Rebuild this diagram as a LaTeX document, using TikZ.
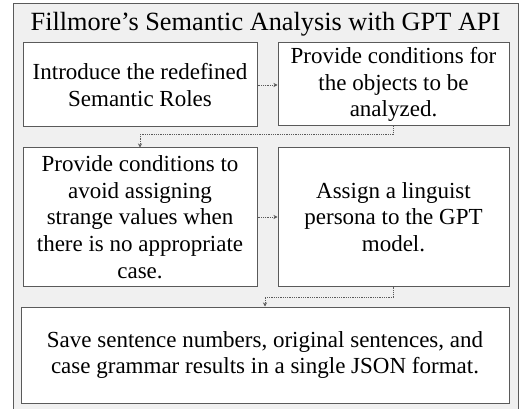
\documentclass[tikz,border=0pt]{standalone}
\usepackage{fontspec}
\setmainfont{Liberation Serif}
\usetikzlibrary{arrows.meta}
\definecolor{panel}{HTML}{F0F0F0}
\definecolor{edge}{HTML}{5A5A5A}
\tikzset{
  stepbox/.style={draw=edge, line width=1pt, fill=white, align=center,
    font=\fontsize{23}{26.8}\selectfont, inner sep=0pt},
  conn/.style={draw=edge, line width=0.8pt, densely dotted, -{Stealth[length=4pt,width=4pt]}},
}
\begin{document}
\begin{tikzpicture}[x=1pt,y=-1pt]
\useasboundingbox (0,0) rectangle (520,409);
\fill[white] (0,0) rectangle (520,409);
\draw[edge, line width=1pt, fill=panel] (13,4) rectangle (518.5,420);
\node[font=\fontsize{26.3}{30}\selectfont] (title) at (265.5,24) {Fillmore’s Semantic Analysis with GPT API};
\node[stepbox, minimum width=234pt, minimum height=84pt] (b1) at (140,85) {Introduce the redefined\\Semantic Roles};
\node[stepbox, minimum width=231pt, minimum height=83pt] (b2) at (393.5,84.5) {Provide conditions for\\the objects to be\\analyzed.};
\node[stepbox, minimum width=234pt, minimum height=138pt] (b3) at (140,217) {Provide conditions to\\avoid assigning\\strange values when\\there is no appropriate\\case.};
\node[stepbox, minimum width=231pt, minimum height=138pt] (b4) at (393.5,217) {Assign a linguist\\persona to the GPT\\model.};
\node[stepbox, minimum width=488pt, minimum height=96pt] (b5) at (265,355) {Save sentence numbers, original sentences, and\\case grammar results in a single JSON format.};
\draw[conn] (b1.east) -- (b2.west |- b1.east);
\draw[conn] (b2.south) -- ++(0,8) -| (b3.north);
\draw[conn] (b3.east) -- (b4.west);
\draw[conn] (b4.south) -- ++(0,11) -| (b5.north);
\end{tikzpicture}
\end{document}
